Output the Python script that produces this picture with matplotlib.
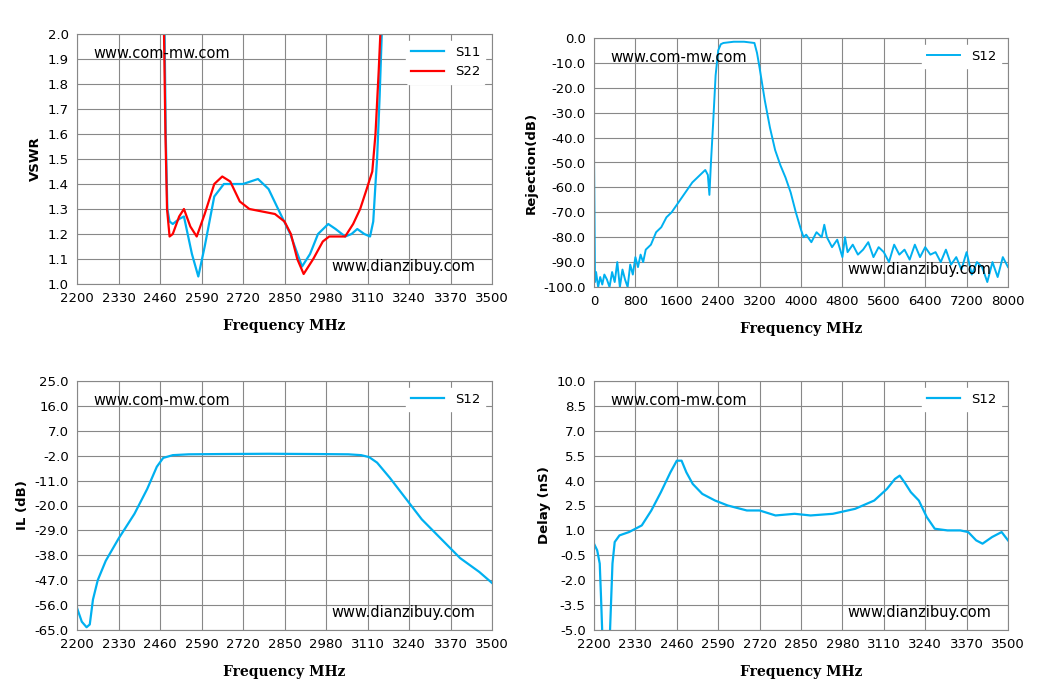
import numpy as np
import matplotlib.pyplot as plt

BLUE = '#00b0f0'
RED = '#ff0000'

# VSWR
s11_f = [2474, 2478, 2483, 2490, 2500, 2520, 2535, 2560, 2580, 2600, 2630, 2660, 2690, 2720, 2767, 2800, 2830, 2868, 2905, 2930, 2955, 2987, 3010, 3040, 3060, 3078, 3100, 3118, 3128, 3135, 3140, 3148, 3156]
s11_v = [2.05, 1.6, 1.3, 1.25, 1.24, 1.26, 1.27, 1.12, 1.03, 1.15, 1.35, 1.40, 1.40, 1.40, 1.42, 1.38, 1.3, 1.2, 1.07, 1.12, 1.2, 1.24, 1.22, 1.19, 1.2, 1.22, 1.2, 1.19, 1.25, 1.4, 1.5, 1.75, 2.05]
s22_f = [2472, 2477, 2482, 2490, 2500, 2520, 2535, 2555, 2575, 2600, 2630, 2655, 2680, 2710, 2740, 2780, 2820, 2850, 2870, 2890, 2910, 2940, 2970, 2990, 3015, 3040, 3065, 3087, 3105, 3125, 3135, 3145, 3152]
s22_v = [2.05, 1.6, 1.3, 1.19, 1.2, 1.27, 1.3, 1.23, 1.19, 1.28, 1.4, 1.43, 1.41, 1.33, 1.3, 1.29, 1.28, 1.25, 1.2, 1.1, 1.04, 1.1, 1.17, 1.19, 1.19, 1.19, 1.24, 1.3, 1.37, 1.45, 1.6, 1.85, 2.05]

# Rejection
rej_f = [0, 20, 40, 80, 120, 160, 200, 250, 300, 350, 400, 450, 500, 550, 600, 650, 700, 750, 800, 850, 900, 950, 1000,
         1100, 1200, 1300, 1400, 1500, 1600, 1700, 1800, 1900, 2000, 2100, 2150, 2200, 2230, 2260, 2300, 2350, 2400, 2450,
         2500, 2700, 2900, 3100, 3150, 3200, 3300, 3400, 3500, 3600, 3700, 3800, 3900, 4000, 4050, 4100, 4200, 4300, 4400,
         4450, 4500, 4600, 4700, 4800, 4850, 4900, 5000, 5100, 5200, 5300, 5400, 5500, 5600, 5700, 5800, 5900, 6000, 6100,
         6200, 6300, 6400, 6500, 6600, 6700, 6800, 6900, 7000, 7100, 7200, 7300, 7400, 7500, 7600, 7700, 7800, 7900, 8000]
rej_v = [-47, -98, -94, -100, -96, -99, -95, -97, -100, -94, -98, -90, -100, -93, -97, -100, -91, -95, -88, -92, -87, -90, -85,
         -83, -78, -76, -72, -70, -67, -64, -61, -58, -56, -54, -53, -55, -63, -50, -35, -15, -5, -2.5,
         -2, -1.5, -1.5, -2, -6, -12, -25, -36, -45, -51, -56, -62, -70, -77, -80, -79, -82, -78, -80,
         -75, -80, -84, -81, -88, -80, -86, -83, -87, -85, -82, -88, -84, -86, -90, -83, -87, -85, -89,
         -83, -88, -84, -87, -86, -90, -85, -91, -88, -93, -86, -95, -90, -92, -98, -90, -96, -88, -92]

# Insertion loss
il_f = [2200, 2215, 2230, 2240, 2250, 2265, 2290, 2330, 2380, 2420, 2450, 2470, 2500, 2550, 2650, 2800, 2950, 3050, 3090, 3115, 3140, 3180, 3240, 3280, 3340, 3400, 3460, 3500]
il_v = [-57, -62, -64, -63, -54, -47, -40, -32, -23, -14, -6, -2.8, -1.8, -1.5, -1.4, -1.3, -1.4, -1.5, -1.8, -2.5, -4.5, -10, -19, -25, -32, -39, -44, -48]

# Group delay
d1_f = [2200, 2210, 2218, 2222, 2226]
d1_v = [0.2, -0.2, -1.0, -3.0, -5.2]
d2_f = [2250, 2258, 2265, 2280, 2310, 2350, 2380, 2410, 2440, 2460, 2475, 2490, 2510, 2540, 2580, 2620, 2680, 2720, 2770, 2830, 2880, 2950, 3020, 3080, 3120, 3145, 3160, 3175, 3195, 3220, 3245, 3270, 3310, 3350, 3375, 3400, 3420, 3450, 3480, 3500]
d2_v = [-5.2, -1.0, 0.3, 0.7, 0.9, 1.3, 2.2, 3.3, 4.5, 5.2, 5.2, 4.5, 3.8, 3.2, 2.8, 2.5, 2.2, 2.2, 1.9, 2.0, 1.9, 2.0, 2.3, 2.8, 3.5, 4.1, 4.3, 3.9, 3.3, 2.8, 1.8, 1.1, 1.0, 1.0, 0.9, 0.4, 0.2, 0.6, 0.9, 0.4]

plt.rcParams['font.family'] = 'DejaVu Sans'
fig = plt.figure(figsize=(10.41, 7.0), dpi=100)
W, H = 1041, 700
boxes = [(77, 34, 492, 284), (594, 38, 1008, 287), (77, 381, 492, 630), (594, 381, 1008, 630)]
axes = [fig.add_axes([l / W, 1 - b / H, (r - l) / W, (b - t) / H]) for l, t, r, b in boxes]

lab_font = dict(family='DejaVu Serif', fontweight='bold', fontsize=10)


def style(ax, xt, yt, fmt, ylabel):
    ax.set_xticks(xt)
    ax.set_yticks(yt)
    ax.set_xlim(xt[0], xt[-1])
    ax.set_ylim(yt[0], yt[-1])
    ax.set_yticklabels([fmt.format(v) for v in yt])
    ax.grid(True, color='#888888', linewidth=0.8)
    ax.tick_params(length=0, labelsize=9.5, pad=6)
    for s in ax.spines.values():
        s.set_color('#888888')
    ax.set_xlabel('Frequency MHz', labelpad=10, **lab_font)
    ax.set_ylabel(ylabel, fontweight='bold', fontsize=9.5)
    ax.text(0.04, 0.95, 'www.com-mw.com', transform=ax.transAxes, fontsize=10.5, va='top')
    ax.text(0.96, 0.04, 'www.dianzibuy.com', transform=ax.transAxes, fontsize=10.5, ha='right', va='bottom')
    leg = ax.legend(loc='upper right', frameon=True, fontsize=9.5, handlelength=2.5)
    leg.get_frame().set_edgecolor('white')
    leg.get_frame().set_alpha(1)


ax = axes[0]
ax.plot(s11_f, s11_v, color=BLUE, lw=1.6, label='S11')
ax.plot(s22_f, s22_v, color=RED, lw=1.6, label='S22')
style(ax, np.arange(2200, 3501, 130), np.round(np.arange(1.0, 2.01, 0.1), 1), '{:.1f}', 'VSWR')

ax = axes[1]
ax.plot(rej_f, rej_v, color=BLUE, lw=1.4, label='S12')
style(ax, np.arange(0, 8001, 800), np.arange(-100, 1, 10), '{:.1f}', 'Rejection(dB)')

ax = axes[2]
ax.plot(il_f, il_v, color=BLUE, lw=1.6, label='S12')
style(ax, np.arange(2200, 3501, 130), np.arange(-65, 26, 9), '{:.1f}', 'IL (dB)')

ax = axes[3]
ax.plot(d2_f, d2_v, color=BLUE, lw=1.6, label='S12')
ax.plot(d1_f, d1_v, color=BLUE, lw=1.6)
style(ax, np.arange(2200, 3501, 130), np.arange(-5, 10.1, 1.5), '{:.1f}', 'Delay (nS)')

fig.savefig('out.png', dpi=100)
